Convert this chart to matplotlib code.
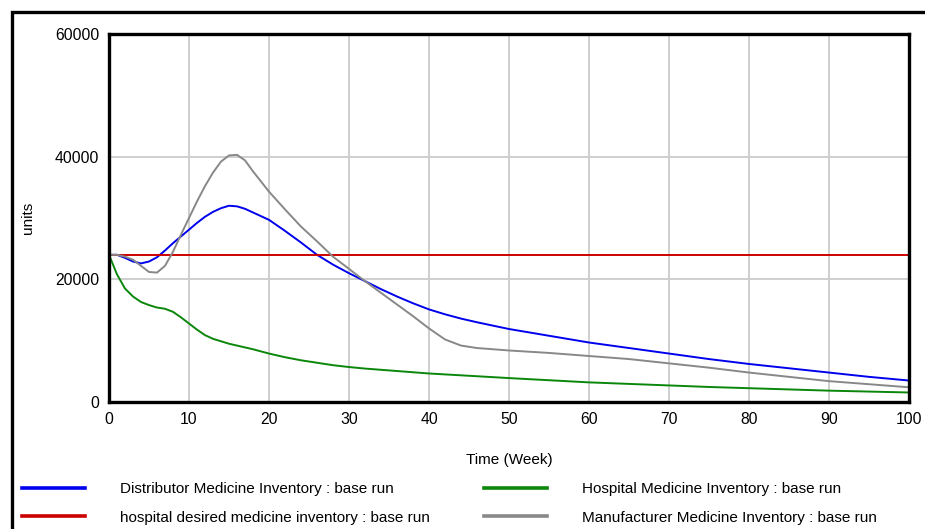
import matplotlib.pyplot as plt
from matplotlib.patches import Rectangle

# Time axis (weeks) and series values
weeks = [0, 1, 2, 3, 4, 5, 6, 7, 8, 9, 10, 11, 12, 13, 14, 15, 16, 17, 18,
         20, 22, 24, 26, 28, 30, 32, 34, 36, 38, 40, 42, 44, 46,
         50, 55, 60, 65, 70, 75, 80, 85, 90, 95, 100]

distributor = [24000, 24000, 23500, 22900, 22600, 22900, 23600, 24700, 25900, 27000,
               28100, 29200, 30200, 31000, 31600, 32000, 31900, 31500, 30900,
               29700, 27900, 26000, 24000, 22400, 21000, 19700, 18400, 17200, 16100,
               15100, 14300, 13600, 13000, 11900, 10800, 9700, 8800, 7900, 7000,
               6200, 5500, 4800, 4100, 3500]

manufacturer = [24000, 24000, 23700, 23200, 22200, 21200, 21100, 22200, 24500, 27300,
                30000, 32700, 35200, 37400, 39200, 40200, 40300, 39400, 37600,
                34300, 31400, 28600, 26200, 23700, 21700, 19700, 17800, 15900, 14000,
                12000, 10200, 9200, 8800, 8400, 8000, 7500, 7000, 6300, 5600,
                4800, 4100, 3400, 2900, 2400]

hospital = [24000, 20800, 18500, 17200, 16300, 15800, 15400, 15200, 14700, 13800,
            12800, 11800, 10900, 10300, 9900, 9500, 9200, 8900, 8600,
            7900, 7300, 6800, 6400, 6000, 5700, 5450, 5250, 5050, 4850,
            4650, 4500, 4350, 4200, 3900, 3550, 3200, 2950, 2700, 2450,
            2250, 2050, 1850, 1700, 1550]

desired = [24000] * len(weeks)

plt.rcParams['font.family'] = ['Liberation Sans', 'DejaVu Sans']

fig = plt.figure(figsize=(9.25, 5.29), dpi=100)
ax = fig.add_axes([109 / 925, 127 / 529, 800 / 925, 368 / 529])

ax.plot(weeks, distributor, color='#0000ee', lw=1.4,
        label='Distributor Medicine Inventory : base run')
ax.plot(weeks, desired, color='#cc0000', lw=1.4,
        label='hospital desired medicine inventory : base run')
ax.plot(weeks, hospital, color='#0a870a', lw=1.4,
        label='Hospital Medicine Inventory : base run')
ax.plot(weeks, manufacturer, color='#888888', lw=1.4,
        label='Manufacturer Medicine Inventory : base run')

ax.set_xlim(0, 100)
ax.set_ylim(0, 60000)
ax.set_xticks(range(0, 101, 10))
ax.set_yticks([0, 20000, 40000, 60000])
ax.grid(color='#cccccc', lw=1.3)
ax.set_axisbelow(True)
ax.tick_params(length=0, labelsize=11.3, pad=7)
for s in ax.spines.values():
    s.set_linewidth(2.4)
ax.set_xlabel('Time (Week)', fontsize=11, labelpad=19)
ax.set_ylabel('units', fontsize=11)
ax.yaxis.set_label_coords(-0.0925, 0.5)

# legend in two columns under the plot
leg = fig.legend(loc='upper left', bbox_to_anchor=(22 / 925, 1 - 482 / 529), ncol=2,
                 frameon=False, fontsize=11, handlelength=4.1, handletextpad=2.3,
                 columnspacing=3.55, labelspacing=0.95, borderaxespad=0, borderpad=0)
for line in leg.get_lines():
    line.set_linewidth(2.6)

# outer black frame, cut off by the image edge
fig.patches.append(Rectangle((12 / 925, -0.1), 1.2, 1.1 - 12 / 529,
                             transform=fig.transFigure, fill=False,
                             edgecolor='black', lw=2.4, clip_on=False))

fig.savefig('out.png', dpi=100)
